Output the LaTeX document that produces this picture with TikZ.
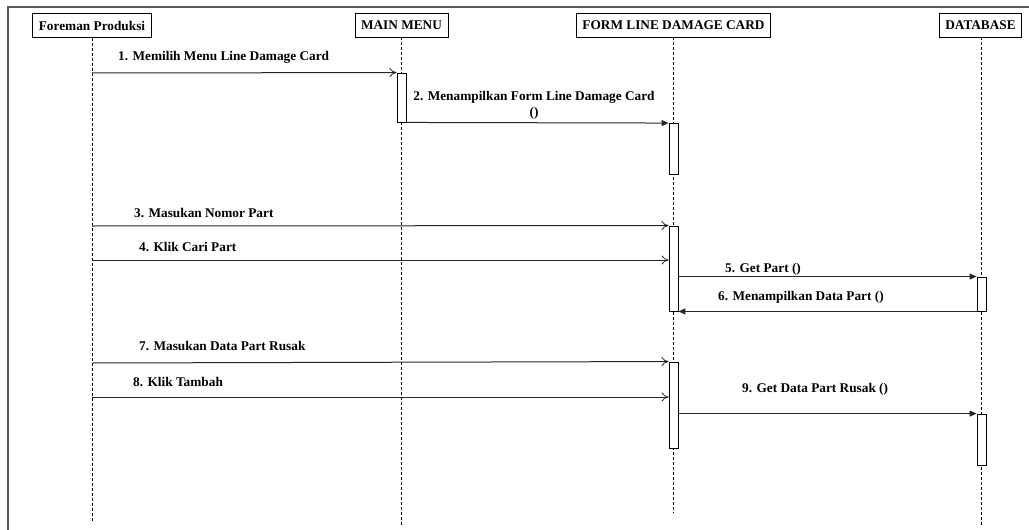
\documentclass[tikz,border=0pt]{standalone}
\usepackage{fontspec}
\setmainfont{Liberation Serif}
\usetikzlibrary{arrows.meta}
\begin{document}
\begin{tikzpicture}[x=1pt,y=-1pt,
  every node/.style={font=\fontsize{13.3}{16}\selectfont\bfseries},
  head/.style={draw,line width=0.9pt,fill=white,inner xsep=6pt,minimum height=24pt},
  life/.style={line width=0.8pt,dash pattern=on 3pt off 2pt},
  act/.style={draw,line width=0.9pt,fill=white,minimum width=9pt,inner sep=0pt},
  call/.style={line width=1pt,draw=black!85,-{Triangle[length=7pt,width=6pt]}},
  send/.style={line width=1pt,draw=black!85,-{To[length=7pt,width=9pt,line width=0.8pt]}},
  lbl/.style={anchor=base west,inner sep=0pt}]
\useasboundingbox (0,0) rectangle (1029,530);
% frame
\draw[line width=1.2pt,black!65] (1029,7) -- (8,7) -- (8,530);

% lifeline heads
\node[head] (fp) at (92,25.5) {Foreman Produksi};
\node[head] (mm) at (401.5,25) {MAIN MENU};
\node[head] (fl) at (673.5,25) {FORM LINE DAMAGE CARD};
\node[head] (db) at (980.5,25) {DATABASE};

% lifeline ends
\coordinate (fpE) at (92,522);
\coordinate (mmE) at (401.5,527);
\coordinate (flE) at (673.5,513);
\coordinate (dbE) at (981.5,527);
\draw[life] (fp) -- (fpE);
\draw[life] (mm) -- (mmE);
\draw[life] (fl) -- (flE);
\draw[life] (db.south -| dbE) -- (dbE);

% activation bars
\node[act,minimum height=49pt] (a1) at (401.5,97.5) {};
\node[act,minimum height=51pt] (a2) at (673.5,149) {};
\node[act,minimum height=85pt] (a3) at (673.5,268.5) {};
\node[act,minimum height=34pt] (d1) at (981.5,294) {};
\node[act,minimum height=86pt] (a4) at (673.5,405) {};
\node[act,minimum height=51pt] (d2) at (981.5,439.5) {};

% points on the actor lifeline
\coordinate (m1) at (92,73);
\coordinate (m3) at (92,226);
\coordinate (m4) at (92,260);
\coordinate (m7) at (92,363);
\coordinate (m8) at (92,397);

% messages
\draw[send] (m1) -- (a1.north west);
\draw[call] (a1.south east) -- (a2.north west);
\draw[send] (m3) -- (a3.north west);
\draw[send] (m4) -- (m4 -| a3.west);
\draw[call] (d1.north west -| a3.east) -- (d1.north west);
\draw[call] (d1.south west) -- (d1.south west -| a3.east);
\draw[send] (m7) -- (a4.north west);
\draw[send] (m8) -- (m8 -| a4.west);
\draw[call] (d2.north west -| a4.east) -- (d2.north west);

% message labels
\node[lbl] (t1) at (118,60) {1. Memilih Menu Line Damage Card};
\node[align=center,inner sep=0pt] (t2) at (534,105) {2. Menampilkan Form Line Damage Card\\()};
\node[lbl] (t3) at (134,217) {3. Masukan Nomor Part};
\node[lbl] (t4) at (139,251) {4. Klik Cari Part};
\node[lbl] (t5) at (725,272) {5. Get Part ()};
\node[lbl] (t6) at (718,300) {6. Menampilkan Data Part ()};
\node[lbl] (t7) at (139,350) {7. Masukan Data Part Rusak};
\node[lbl] (t8) at (133,386) {8. Klik Tambah};
\node[lbl] (t9) at (742,392) {9. Get Data Part Rusak ()};
\end{tikzpicture}
\end{document}
